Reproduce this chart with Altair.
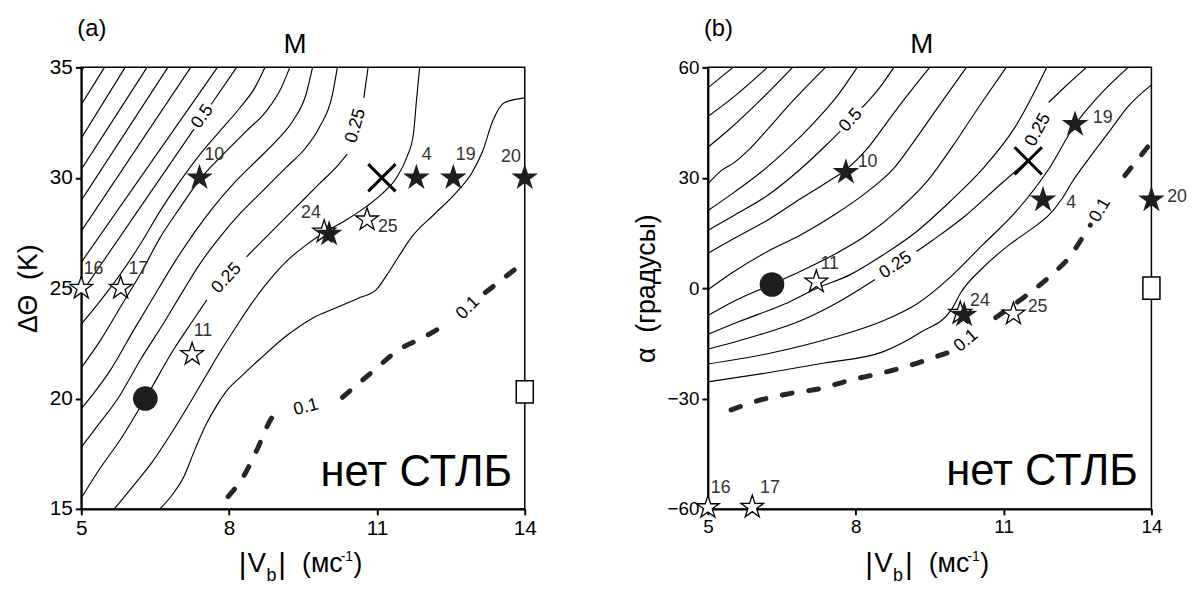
import altair as alt
import pandas as pd

FONT = "Liberation Sans"
W, H = 448, 446

STAR = ("M0,-1L0.2245,-0.309L0.951,-0.309L0.3633,0.118L0.5878,0.809L0,0.382"
        "L-0.5878,0.809L-0.3633,0.118L-0.951,-0.309L-0.2245,-0.309Z")
XMARK = "M-1,-1L1,1M-1,1L1,-1"
RECT = "M-0.77,-1H0.77V1H-0.77Z"

# ---------------- panel (a) ----------------
A_X_TICKS = [5, 8, 11, 14]
A_Y_TICKS = [15, 20, 25, 30, 35]
A_SOLID_X = [
    [5.0, 5.05], [5.0, 5.47], [5.0, 5.89], [5.0, 6.334], [5.0, 6.757], [5.0, 7.22],
    [5.0, 7.763],
    [5.0, 7.287], [7.635, 8.152],
    [5.0, 5.402, 5.805, 6.207, 6.609, 7.012, 7.414, 7.817, 8.219, 8.521, 8.729],
    [5.0, 5.402, 5.805, 6.207, 6.609, 7.012, 7.414, 7.884, 8.353, 8.755, 9.057, 9.232],
    [5.0, 5.268, 5.604, 6.073, 6.475, 6.878, 7.28, 7.682, 8.085, 8.554, 8.957, 9.292, 9.56, 9.694],
    [5.0, 5.335, 5.738, 6.207, 6.677, 7.079, 7.414, 7.817, 8.219, 8.688, 9.158, 9.56, 9.828,
     10.097, 10.197],
    [5.0, 5.335, 5.805, 6.314, 6.878, 7.28, 7.548],
    [8.353, 8.755, 9.292, 9.828, 10.231, 10.398],
    [10.734, 10.821],
    [5.671, 6.039, 6.442, 6.844, 7.213, 7.548, 7.85, 8.152, 8.487, 8.822, 9.158, 9.56, 9.962,
     10.365, 10.767, 11.102, 11.404, 11.605, 11.74, 11.807, 11.867],
    [6.596, 6.844, 7.079, 7.314, 7.542, 7.749, 8.004, 8.219, 8.621, 9.158, 9.694, 10.164,
     10.633, 10.982, 11.203, 11.438, 11.706, 12.175, 12.645, 12.913, 13.148, 13.349, 13.584, 14.0],
]
A_SOLID_Y = [
    [34.82, 35], [33.31, 35], [31.79, 35], [30.38, 35], [28.97, 35], [27.58, 35],
    [26.17, 35],
    [24.77, 32.2], [33.32, 35],
    [23.37, 24.47, 25.67, 27.02, 28.52, 29.87, 31.07, 32.12, 33.17, 34.07, 35],
    [21.39, 22.68, 24.18, 25.67, 27.32, 28.67, 29.95, 31.07, 32.12, 33.02, 34.07, 35],
    [19.54, 20.28, 21.33, 23.13, 24.63, 26.12, 27.47, 28.67, 29.72, 30.77, 31.67, 32.57, 33.77, 35],
    [17.79, 18.78, 19.98, 21.78, 23.43, 24.92, 26.12, 27.32, 28.37, 29.42, 30.47, 31.37, 32.27,
     33.77, 35],
    [15.49, 16.68, 18.18, 20.05, 22.23, 23.58, 24.47],
    [26.42, 27.32, 28.52, 29.72, 30.62, 31.07],
    [33.62, 35],
    [15.0, 16.0, 17.13, 18.48, 19.83, 21.1, 22.23, 23.28, 24.4, 25.37, 26.2, 26.95, 27.55,
     28.07, 28.67, 29.27, 30.02, 30.92, 31.97, 33.62, 35],
    [15.0, 15.63, 16.44, 17.73, 18.87, 19.68, 20.49, 20.95, 21.78, 22.83, 23.64, 24.1,
     24.55, 24.92, 25.6, 26.42, 27.32, 28.37, 29.42, 30.17, 31.22, 32.57, 33.4, 33.62],
]
A_DASH_X = [[7.98, 8.3, 8.55, 8.89, 9.1], [10.3, 10.9, 11.44, 11.97, 12.5], [13.2, 13.6, 14.0]]
A_DASH_Y = [[15.56, 16.5, 17.6, 19.2, 19.5], [20.05, 21.2, 22.2, 22.8, 23.5], [24.8, 25.5, 26.2]]
A_LEVEL_TEXT = ["0.5", "0.25", "0.25", "0.1", "0.1"]
A_LEVEL_X = [7.46, 10.57, 7.95, 9.56, 12.85]
A_LEVEL_Y = [32.77, 32.35, 25.45, 19.6, 24.1]
A_LEVEL_ANGLE = [305, 286, 313, 345, 315]
A_FILLED_X = [7.4, 11.8, 12.55, 14.0, 10.03]
A_FILLED_Y = [30.0, 30.0, 30.0, 30.0, 27.45]
A_OPEN_X = [5.0, 5.8, 7.25, 9.93, 10.8]
A_OPEN_Y = [25.0, 25.0, 22.0, 27.55, 28.1]
A_NUM_TEXT = ["10", "4", "19", "20", "24", "25", "16", "17", "11"]
A_NUM_X = [7.7, 12.01, 12.8, 13.72, 9.66, 11.22, 5.25, 6.16, 7.47]
A_NUM_Y = [31.05, 31.05, 31.05, 30.95, 28.4, 27.75, 25.85, 25.85, 23.05]
A_CROSS = (11.1, 30.0)
A_DOT = (6.3, 20.0)
A_SQUARE = (14.0, 20.3)
A_NOTE = (11.8, 16.6)

# ---------------- panel (b) ----------------
B_X_TICKS = [5, 8, 11, 14]
B_Y_TICKS = [-60, -30, 0, 30, 60]
B_SOLID_X = [
    [5.0, 5.51],
    [5.0, 5.537, 6.209],
    [5.0, 5.47, 6.075, 6.719],
    [5.0, 5.269, 5.537, 5.806, 6.209, 6.746, 7.384],
    [5.0, 5.537, 6.075, 6.612, 7.149, 7.619, 8.029],
    [5.0, 5.537, 6.209, 6.88, 7.418, 7.686], [8.123, 8.425, 8.774],
    [5.0, 5.537, 6.209, 6.88, 7.418, 7.821, 8.224, 8.627, 9.03, 9.5],
    [5.0, 5.537, 6.209, 6.88, 7.552, 8.224, 8.761, 9.164, 9.634, 10.245],
    [5.0, 5.537, 6.289, 6.88, 7.552, 8.224, 8.895, 9.433, 9.97, 10.507, 11.051],
    [5.0, 5.672, 6.545, 7.23, 7.888, 8.56, 9.231, 9.903, 10.574, 11.246, 11.877],
    [5.0, 5.873, 6.88, 7.686, 8.392], [9.231, 9.567, 10.238, 10.91, 11.481],
    [11.917, 12.253, 12.683],
    [5.0, 6.209, 7.552, 8.56, 9.231, 9.903, 10.574, 11.246, 11.917, 12.455, 12.925, 13.529],
    [5.0, 6.189, 7.364, 8.533, 9.325, 9.943, 10.131, 10.574, 11.112, 11.582, 11.917, 12.186,
     12.388, 12.723, 13.126, 13.529, 14.0],
]
B_SOLID_Y = [
    [54.44, 60],
    [46.64, 52.11, 60],
    [38.3, 43.59, 51.21, 60],
    [28.34, 31.93, 34.17, 37.31, 43.14, 51.21, 60],
    [21.07, 26.1, 31.48, 37.76, 44.93, 52.11, 60],
    [15.69, 19.82, 25.2, 32.38, 39.1, 42.69], [48.97, 53.45, 60],
    [9.5, 13.54, 18.47, 24.3, 28.79, 32.38, 37.76, 44.93, 52.11, 60],
    [-0.45, 4.57, 9.95, 14.44, 19.82, 26.1, 32.38, 39.55, 48.52, 60],
    [-7.45, -3.5, 0.98, 4.57, 9.06, 14.44, 21.61, 28.79, 38.65, 49.42, 60],
    [-12.56, -8.88, -4.4, 0.09, 3.67, 9.06, 15.33, 23.41, 32.38, 44.03, 60],
    [-16.6, -13.37, -8.88, -3.5, 2.33], [9.95, 13.09, 19.82, 27.89, 34.62],
    [50.5, 54.8, 60],
    [-20.63, -17.85, -13.37, -8.88, -4.4, 2.78, 11.75, 20.72, 32.38, 44.48, 52.11, 60],
    [-25.47, -23.05, -20.36, -17.4, -11.93, -5.83, -1.26, 5.47, 11.75, 16.23, 19.82, 24.3,
     28.79, 35.07, 42.24, 49.42, 55.25],
]
B_DASH_X = [[5.47, 6.07, 6.68, 7.28, 7.89, 8.49, 9.10, 9.70, 9.90],
            [10.84, 11.31, 11.58, 11.98, 12.32, 12.59, 12.76], [13.46, 13.73, 14.0]]
B_DASH_Y = [[-33.1, -30.4, -28.6, -27.3, -25.0, -23.2, -21.0, -18.3, -17.4],
            [-8.0, -3.5, -0.8, 3.7, 8.2, 13.5, 17.1], [30.6, 35.1, 39.6]]
B_LEVEL_TEXT = ["0.5", "0.25", "0.25", "0.1", "0.1"]
B_LEVEL_X = [7.90, 11.70, 8.81, 10.24, 12.96]
B_LEVEL_Y = [45.6, 43.0, 6.2, -14.3, 21.2]
B_LEVEL_ANGLE = [312, 298, 326, 320, 300]
B_FILLED_X = [7.8, 12.45, 11.8, 14.0, 10.2]
B_FILLED_Y = [31.5, 44.5, 24.0, 24.0, -7.3]
B_OPEN_X = [7.2, 10.12, 11.2, 5.0, 5.9]
B_OPEN_Y = [1.7, -6.8, -7.0, -59.6, -59.5]
B_NUM_TEXT = ["10", "19", "4", "20", "11", "24", "25", "16", "17"]
B_NUM_X = [8.24, 13.01, 12.37, 14.52, 7.47, 10.52, 11.69, 5.26, 6.26]
B_NUM_Y = [34.4, 46.2, 23.2, 24.8, 6.6, -3.6, -5.1, -54.3, -54.3]
B_CROSS = (11.5, 34.6)
B_DOT = (6.3, 1.0)
B_SQUARE = (14.0, 0.0)
B_NOTE = (11.78, -49.9)


def lines_df(xs, ys):
    rows = []
    for k, (lx, ly) in enumerate(zip(xs, ys)):
        for i, (x, y) in enumerate(zip(lx, ly)):
            rows.append({"seg": k, "i": i, "x": x, "y": y})
    return pd.DataFrame(rows)


def panel(tag, xt, yt, ytitle, sx, sy, dx, dy, lt, lxv, lyv, la, fx, fy, ox, oy,
          nt, nx, ny, cross, dot, square, note, lab_size):
    xs = alt.Scale(domain=[xt[0], xt[-1]], nice=False, zero=False)
    ys = alt.Scale(domain=[yt[0], yt[-1]], nice=False, zero=False)
    xax = alt.Axis(values=xt, title=None, grid=False, labelFont=FONT, labelFontSize=lab_size,
                   labelColor="black", tickSize=6, tickWidth=2, tickColor="black",
                   domainColor="black", domainWidth=2, labelPadding=3, labelFlush=False)
    yax = alt.Axis(values=yt, title=ytitle, grid=False, labelFont=FONT, labelFontSize=lab_size,
                   labelColor="black", tickSize=6, tickWidth=2, tickColor="black",
                   domainColor="black", domainWidth=2, labelPadding=3, labelFlush=False,
                   titleFont=FONT, titleFontSize=27, titleFontWeight="normal",
                   titleColor="black", titlePadding=7)
    X = alt.X("x:Q", scale=xs, axis=xax)
    Y = alt.Y("y:Q", scale=ys, axis=yax)
    Xn = alt.X("x:Q", scale=xs)
    Yn = alt.Y("y:Q", scale=ys)

    solid = alt.Chart(lines_df(sx, sy)).mark_line(
        color="black", strokeWidth=1.15, clip=True, interpolate="monotone").encode(
        x=X, y=Y, detail="seg:N", order="i:Q")
    dashed = alt.Chart(lines_df(dx, dy)).mark_line(
        color="#262626", strokeWidth=5, strokeDash=[10, 17], strokeCap="round",
        clip=True, interpolate="monotone").encode(x=Xn, y=Yn, detail="seg:N", order="i:Q")
    levels = alt.Chart(pd.DataFrame({"t": lt, "x": lxv, "y": lyv, "a": la})).mark_text(
        font=FONT, fontSize=18, color="black").encode(
        x=Xn, y=Yn, text="t:N", angle=alt.Angle("a:Q", scale=None))
    open_st = alt.Chart(pd.DataFrame({"x": ox, "y": oy})).mark_point(
        shape=STAR, size=580, filled=True, fill="white", stroke="black",
        strokeWidth=1.3, opacity=1).encode(x=Xn, y=Yn)
    fill_st = alt.Chart(pd.DataFrame({"x": fx, "y": fy})).mark_point(
        shape=STAR, size=800, filled=True, color="#1e1e1e", opacity=1).encode(x=Xn, y=Yn)
    nums = alt.Chart(pd.DataFrame({"t": nt, "x": nx, "y": ny})).mark_text(
        font=FONT, fontSize=18, color="#333333").encode(x=Xn, y=Yn, text="t:N")
    crs = alt.Chart(pd.DataFrame({"x": [cross[0]], "y": [cross[1]]})).mark_point(
        shape=XMARK, size=760, stroke="black", strokeWidth=3, opacity=1).encode(x=Xn, y=Yn)
    dt = alt.Chart(pd.DataFrame({"x": [dot[0]], "y": [dot[1]]})).mark_point(
        shape="circle", size=620, filled=True, color="#1e1e1e", opacity=1).encode(x=Xn, y=Yn)
    sq = alt.Chart(pd.DataFrame({"x": [square[0]], "y": [square[1]]})).mark_point(
        shape=RECT, size=500, filled=True, fill="white", stroke="black",
        strokeWidth=1.5, opacity=1).encode(x=Xn, y=Yn)
    nt_ = alt.Chart(pd.DataFrame({"t": ["нет СТЛБ"], "x": [note[0]], "y": [note[1]]})).mark_text(
        font=FONT, fontSize=44, color="black").encode(x=Xn, y=Yn, text="t:N")

    def lbl(text, px, py, size, base="alphabetic", align="left", color="black"):
        return alt.Chart(pd.DataFrame({"t": [text]})).mark_text(
            font=FONT, fontSize=size, color=color, align=align, baseline=base).encode(
            text="t:N", x=alt.value(px), y=alt.value(py))

    title_layers = [
        lbl(tag, -4, -51, 24, base="top"),
        lbl("M", W / 2 - 8, -15, 28, align="center"),
        lbl("|", 159, H + 66, 30),
        lbl("V", 168, H + 64, 28),
        lbl("b", 187, H + 73, 18),
        lbl("|", 199, H + 66, 30),
        lbl("(мс", 223, H + 64, 27),
        lbl("-1", 262, H + 53, 14),
        lbl(")", 275, H + 64, 27),
    ]
    return alt.layer(solid, dashed, levels, sq, dt, open_st, fill_st, crs, nums, nt_,
                     *title_layers).properties(width=W, height=H)


pa = panel("(a)", A_X_TICKS, A_Y_TICKS, "ΔΘ\u00a0\u00a0(K)", A_SOLID_X, A_SOLID_Y,
           A_DASH_X, A_DASH_Y, A_LEVEL_TEXT, A_LEVEL_X, A_LEVEL_Y, A_LEVEL_ANGLE,
           A_FILLED_X, A_FILLED_Y, A_OPEN_X, A_OPEN_Y, A_NUM_TEXT, A_NUM_X, A_NUM_Y,
           A_CROSS, A_DOT, A_SQUARE, A_NOTE, 21)
pb = panel("(b)", B_X_TICKS, B_Y_TICKS, "α\u00a0\u00a0(градусы)", B_SOLID_X, B_SOLID_Y,
           B_DASH_X, B_DASH_Y, B_LEVEL_TEXT, B_LEVEL_X, B_LEVEL_Y, B_LEVEL_ANGLE,
           B_FILLED_X, B_FILLED_Y, B_OPEN_X, B_OPEN_Y, B_NUM_TEXT, B_NUM_X, B_NUM_Y,
           B_CROSS, B_DOT, B_SQUARE, B_NOTE, 19)

chart = alt.hconcat(pa, pb, spacing=185, bounds="flush").configure_view(
    stroke="black", strokeWidth=1.5).properties(padding=5, background="white")

chart.save("out.html", embed_options={"renderer": "svg", "actions": False})
